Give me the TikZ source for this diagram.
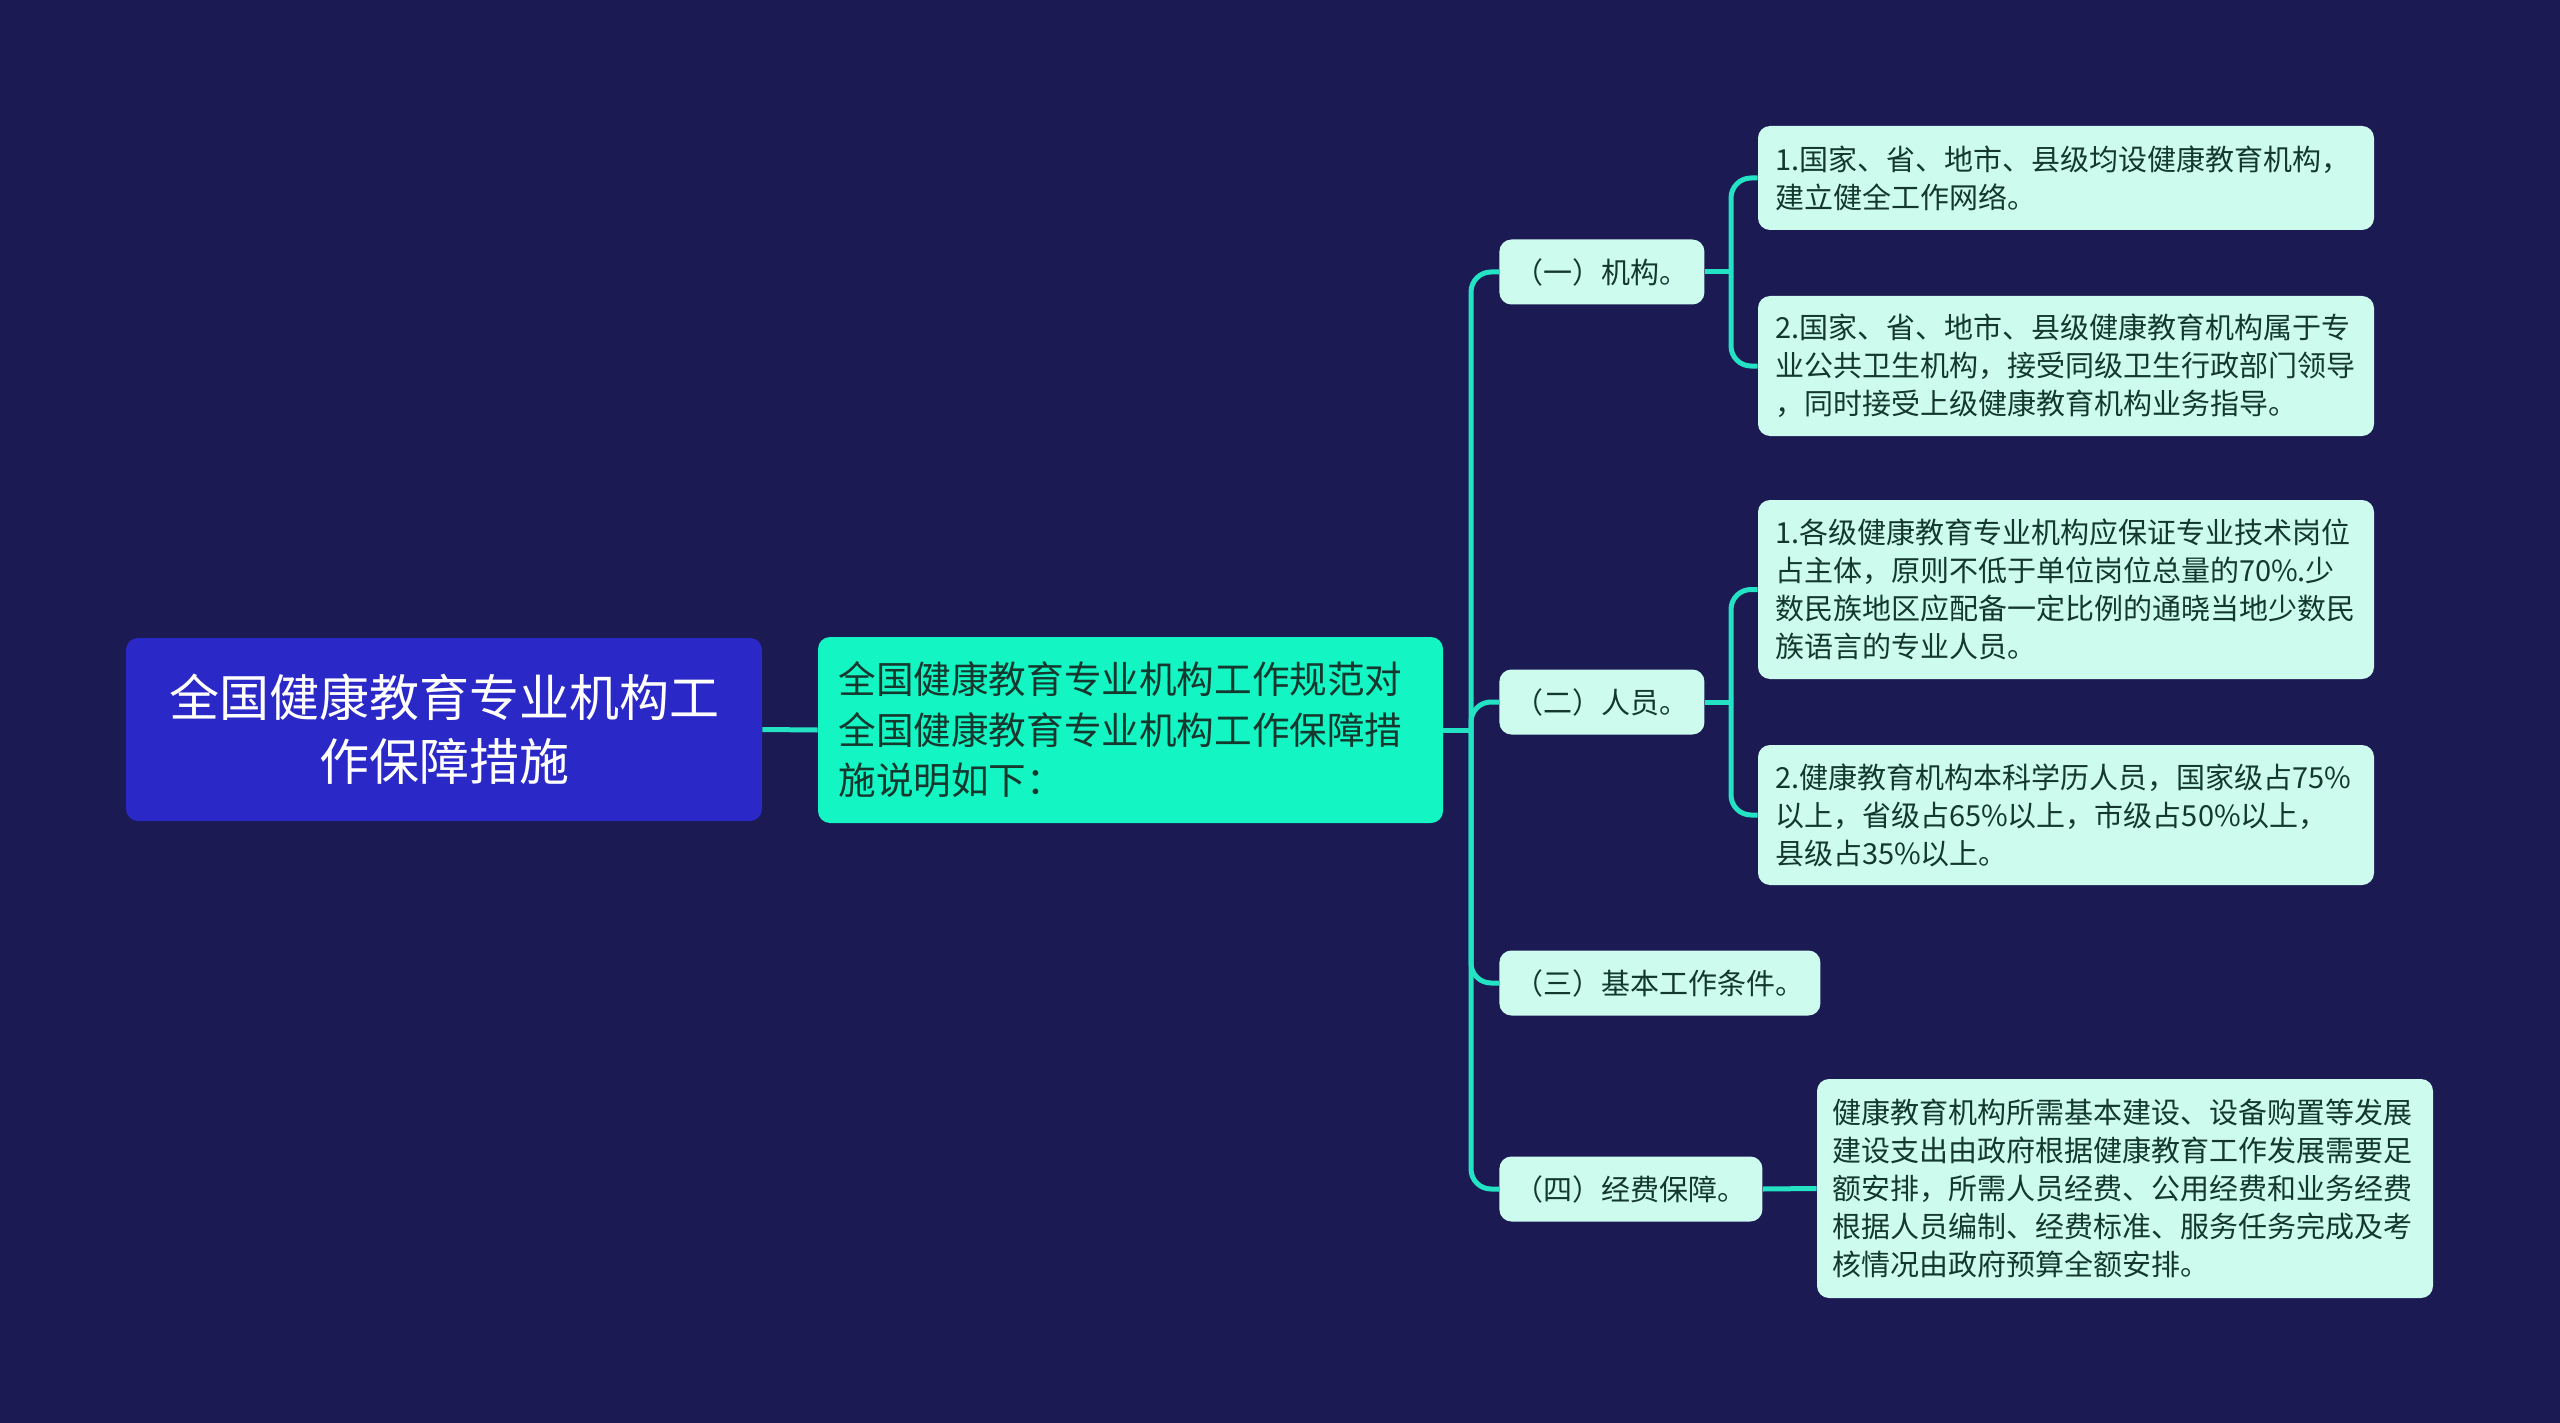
\documentclass[tikz,border=0pt]{standalone}
\usepackage{fontspec}
\setmainfont{Noto Sans CJK SC}
\definecolor{bg}{HTML}{1B1A52}
\definecolor{rootc}{HTML}{2B28C8}
\definecolor{mainc}{HTML}{14F5C4}
\definecolor{leafc}{HTML}{CDFCEF}
\definecolor{txt}{HTML}{14382E}
\definecolor{linec}{HTML}{24E2C4}
\begin{document}
\begin{tikzpicture}[x=0.5pt,y=-0.5pt,
 rootbox/.style={fill=rootc, rounded corners=6pt, text=white, align=center, minimum width=318pt, minimum height=91.5pt, font=\fontsize{25pt}{32pt}\selectfont, inner sep=0pt},
 mainbox/.style={fill=mainc, rounded corners=6pt, text=txt, align=left, text width=292pt, inner xsep=10.25pt, minimum height=93pt, font=\fontsize{18.8pt}{25.3pt}\selectfont},
 subbox/.style={fill=leafc, rounded corners=6pt, text=txt, anchor=west, inner xsep=7.75pt, inner ysep=0pt, minimum height=32.5pt, font=\fontsize{14.5pt}{19pt}\selectfont},
 leafbox/.style={fill=leafc, rounded corners=6pt, text=txt, align=left, text width=291pt, inner xsep=8.5pt, font=\fontsize{14.5pt}{19pt}\selectfont},
 link/.style={draw=linec, line width=2.5pt},
 branch/.style={link, rounded corners=10pt}]
\fill[bg] (0,0) rectangle (2560,1423);
\useasboundingbox (0,0) rectangle (2560,1423);

\node[rootbox] (root) at (444,729.5) {全国健康教育专业机构工\\作保障措施};
\node[mainbox] (main) at (1130.5,730) {全国健康教育专业机构工作规范对\\全国健康教育专业机构工作保障措\\施说明如下：};

\node[subbox] (s1) at (1499,272) {（一）机构。};
\node[subbox] (s2) at (1499,702) {（二）人员。};
\node[subbox] (s3) at (1499,983) {（三）基本工作条件。};
\node[subbox] (s4) at (1499,1189) {（四）经费保障。};

\node[leafbox, minimum height=52pt] (a1) at (2066,178) {1.国家、省、地市、县级均设健康教育机构，\\建立健全工作网络。};
\node[leafbox, minimum height=70pt] (a2) at (2066,366) {2.国家、省、地市、县级健康教育机构属于专\\业公共卫生机构，接受同级卫生行政部门领导\\，同时接受上级健康教育机构业务指导。};
\node[leafbox, minimum height=89.5pt] (b1) at (2066,589.5) {1.各级健康教育专业机构应保证专业技术岗位\\占主体，原则不低于单位岗位总量的70\%.少\\数民族地区应配备一定比例的通晓当地少数民\\族语言的专业人员。};
\node[leafbox, minimum height=70pt] (b2) at (2066,815) {2.健康教育机构本科学历人员，国家级占75\%\\以上，省级占65\%以上，市级占50\%以上，\\县级占35\%以上。};
\node[leafbox, minimum height=109.5pt, text width=293pt, inner xsep=7.5pt] (d1) at (2125,1188.5) {健康教育机构所需基本建设、设备购置等发展\\建设支出由政府根据健康教育工作发展需要足\\额安排，所需人员经费、公用经费和业务经费\\根据人员编制、经费标准、服务任务完成及考\\核情况由政府预算全额安排。};

\coordinate (j0) at (1471,730);
\coordinate (j1) at (1731,272);
\coordinate (j2) at (1731,702);

\draw[link] (root.east) -- (main.west);
\draw[link] (main.east) -- (j0);
\foreach \s in {s1,s2,s3,s4} \draw[branch] (j0) |- (\s.west);
\draw[link] (s1.east) -- (j1);
\draw[branch] (j1) |- (a1.west);
\draw[branch] (j1) |- (a2.west);
\draw[link] (s2.east) -- (j2);
\draw[branch] (j2) |- (b1.west);
\draw[branch] (j2) |- (b2.west);
\draw[link] (s4.east) -- (d1.west);
\end{tikzpicture}
\end{document}
